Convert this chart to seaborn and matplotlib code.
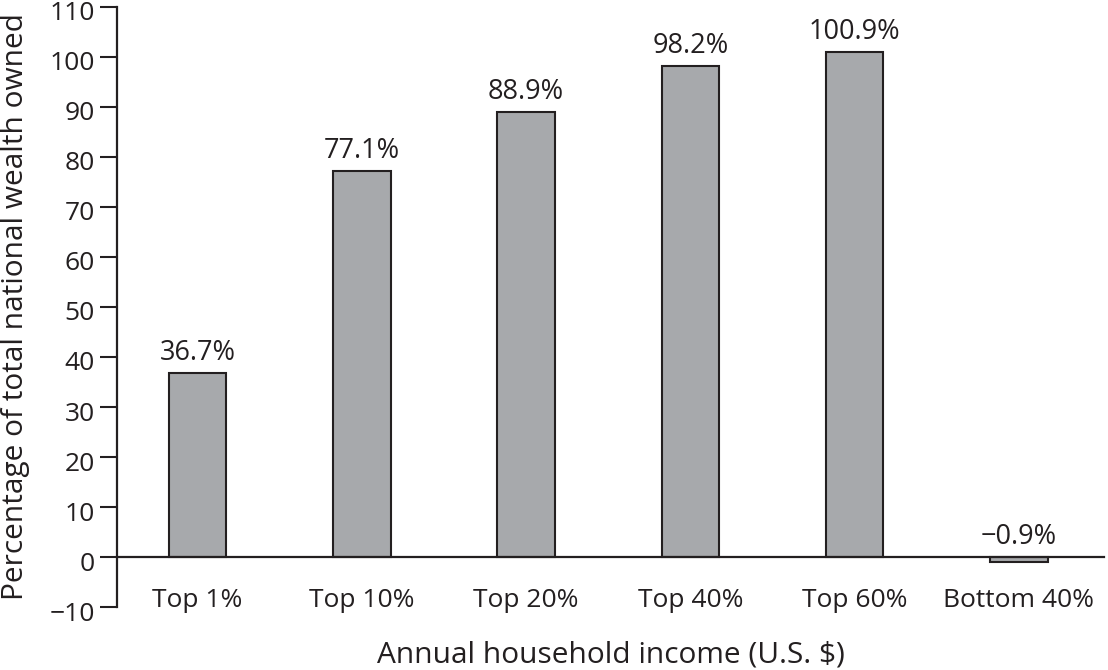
import matplotlib
matplotlib.use("Agg")
import matplotlib.pyplot as plt
import matplotlib.transforms as mtransforms
import seaborn as sns
import pandas as pd

categories = ["Top 1%", "Top 10%", "Top 20%", "Top 40%", "Top 60%", "Bottom 40%"]
values = [36.7, 77.1, 88.9, 98.2, 100.9, -0.9]
labels = ["36.7%", "77.1%", "88.9%", "98.2%", "100.9%", "\u22120.9%"]
yticks = list(range(-10, 111, 10))

sns.set_theme(style="white")
plt.rcParams['font.family'] = ['Open Sans', 'DejaVu Sans']

df = pd.DataFrame({"cat": categories, "val": values})

fig = plt.figure(figsize=(11.08, 6.7), dpi=100)
ax = fig.add_axes([0.1056, 0.094, 0.891, 0.8956])

sns.barplot(data=df, x="cat", y="val", color="#a7a9ac", edgecolor="#231f20",
            linewidth=1.5, width=0.35, saturation=1, ax=ax, errorbar=None)

ax.set_ylim(-10, 110)
ax.set_xlim(-0.49, 5.52)
ax.set_yticks(yticks)
ax.set_yticklabels([str(t).replace("-", "\u2212") for t in yticks])

for s in ["top", "right"]:
    ax.spines[s].set_visible(False)
ax.spines["bottom"].set_position(("data", 0))
for s in ["left", "bottom"]:
    ax.spines[s].set_color("#231f20")
    ax.spines[s].set_linewidth(1.6)

ax.tick_params(axis="y", direction="out", length=12, width=1.5, color="#231f20",
               labelsize=19, labelcolor="#231f20", pad=4, left=True)
ax.tick_params(axis="x", length=0, labelsize=19, labelcolor="#231f20", pad=22)

shift = mtransforms.ScaledTranslation(0, -4 / 100, fig.dpi_scale_trans)
for lab in ax.get_yticklabels():
    lab.set_transform(lab.get_transform() + shift)

for i, (v, lab) in enumerate(zip(values, labels)):
    ax.annotate(lab, (i, max(v, 0)), xytext=(0, 9.5), textcoords="offset points",
                ha="center", va="baseline", fontsize=19.5, color="#231f20")

ax.set_xlabel("Annual household income (U.S. $)", fontsize=21.5, color="#231f20", labelpad=20)
ax.set_ylabel("Percentage of total national wealth owned", fontsize=21.5, color="#231f20")
ax.yaxis.set_label_coords(-0.088, 0.5)

fig.savefig("out.png", dpi=100)
